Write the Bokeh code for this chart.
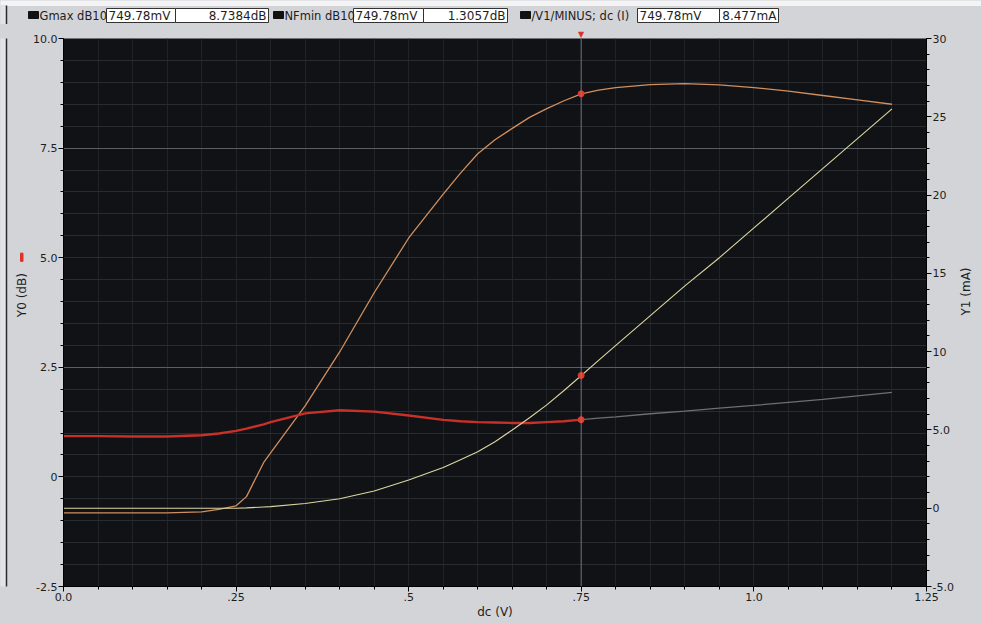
import numpy as np
from bokeh.plotting import figure
from bokeh.layouts import column, row
from bokeh.models import Range1d, LinearAxis, FixedTicker, Span
from bokeh.core.properties import value
from bokeh.embed import file_html
from bokeh.resources import INLINE

# DC sweep of the gate bias (V)
vdc = [0.00, 0.05, 0.10, 0.15, 0.20, 0.225, 0.25, 0.265, 0.29, 0.30,
       0.35, 0.40, 0.45, 0.50, 0.55, 0.575, 0.60, 0.625, 0.65, 0.675,
       0.70, 0.725, 0.75, 0.775, 0.80, 0.85, 0.90, 0.95, 1.00, 1.05,
       1.10, 1.15, 1.20]

# Maximum available gain, dB10 (left axis)
gmax_db = [-0.82, -0.82, -0.82, -0.82, -0.80, -0.74, -0.66, -0.45, 0.33, 0.55,
           1.62, 2.85, 4.20, 5.45, 6.45, 6.93, 7.37, 7.69, 7.95, 8.20,
           8.40, 8.58, 8.7384, 8.82, 8.88, 8.95, 8.97, 8.94, 8.88, 8.80,
           8.70, 8.60, 8.50]

# Minimum noise figure, dB10 (left axis)
nfmin_db = [0.93, 0.93, 0.92, 0.92, 0.95, 0.99, 1.05, 1.10, 1.20, 1.25,
            1.45, 1.52, 1.49, 1.40, 1.30, 1.27, 1.25, 1.24, 1.23, 1.23,
            1.25, 1.27, 1.3057, 1.34, 1.37, 1.44, 1.50, 1.57, 1.63, 1.70,
            1.77, 1.85, 1.93]

# Supply current through /V1/MINUS, mA (right axis)
i_minus_ma = [0.0, 0.0, 0.0, 0.0, 0.0, 0.0, 0.0, 0.02, 0.08, 0.1,
              0.3, 0.6, 1.1, 1.8, 2.6, 3.1, 3.6, 4.25, 5.0, 5.78,
              6.6, 7.52, 8.477, 9.44, 10.4, 12.3, 14.2, 16.0, 17.9, 19.8,
              21.7, 23.6, 25.5]

# Cursor readout
cursor_v = 0.74978
cursor_gmax = 8.7384
cursor_nfmin = 1.3057
cursor_i = 8.477

x_ticks = [0.0, 0.25, 0.5, 0.75, 1.0, 1.25]
x_tick_labels = ["0.0", ".25", ".5", ".75", "1.0", "1.25"]
y0_ticks = [-2.5, 0.0, 2.5, 5.0, 7.5, 10.0]
y0_tick_labels = ["-2.5", "0", "2.5", "5.0", "7.5", "10.0"]
y1_ticks = [-5, 0, 5, 10, 15, 20, 25, 30]
y1_tick_labels = ["-5.0", "0", "5.0", "10", "15", "20", "25", "30"]

W, H = 981, 624
STRIP_H = 24          # readout strip on top
LEFT_W = 28           # strip holding the Y0 title
RIGHT_W = 23          # strip holding the Y1 title
MAIN_W = W - LEFT_W - RIGHT_W
MAIN_H = H - STRIP_H
PAGE = "#d3d4d8"
INK = "#1e1e1e"
RED = "#e0322a"
FONT = "DejaVu Sans"
BG_STYLE = {"background-color": PAGE}


def pixel_panel(x0, y0, w, h):
    """A bare figure whose data coordinates are page pixels (y grows downward)."""
    f = figure(width=w, height=h, x_range=Range1d(x0, x0 + w), y_range=Range1d(y0 + h, y0),
               output_backend="svg", toolbar_location=None,
               x_axis_location=None, y_axis_location=None, min_border=0, styles=BG_STYLE)
    f.grid.visible = False
    f.outline_line_color = None
    f.background_fill_color = PAGE
    f.border_fill_color = PAGE
    # solid page-coloured backing over the whole panel
    f.quad(left=[x0 - 2], right=[x0 + w + 2], top=[y0 - 2], bottom=[y0 + h + 2],
           fill_color=PAGE, line_color=None)
    return f


def put_text(f, x, y, s, align="left", color=INK, size="12px", angle=0.0):
    f.text(x=[x], y=[y], text=[s], angle=angle, text_align=align, text_baseline="middle",
           text_color=color, text_font=value(FONT), text_font_size=value(size))


# ---- main plot -------------------------------------------------------------
p = figure(width=MAIN_W, height=MAIN_H, x_range=Range1d(0, 1.25), y_range=Range1d(-2.5, 10),
           output_backend="svg", toolbar_location=None, styles=BG_STYLE,
           min_border_left=63 - LEFT_W, min_border_right=(W - RIGHT_W) - 926,
           min_border_top=38 - STRIP_H, min_border_bottom=38)
p.background_fill_color = "#111215"
p.border_fill_color = PAGE
p.outline_line_color = None
p.extra_y_ranges = {"ma": Range1d(-5, 30)}

right = LinearAxis(y_range_name="ma")
p.add_layout(right, "right")

p.xaxis[0].ticker = FixedTicker(ticks=x_ticks, minor_ticks=list(np.round(np.arange(0, 1.2501, 0.05), 3)))
p.xaxis[0].major_label_overrides = dict(zip(x_ticks, x_tick_labels))
p.yaxis[0].ticker = FixedTicker(ticks=y0_ticks, minor_ticks=list(np.round(np.arange(-2.5, 10.01, 0.5), 2)))
p.yaxis[0].major_label_overrides = dict(zip(y0_ticks, y0_tick_labels))
right.ticker = FixedTicker(ticks=y1_ticks, minor_ticks=list(range(-5, 31)))
right.major_label_overrides = dict(zip(y1_ticks, y1_tick_labels))

for ax in (p.xaxis[0], p.yaxis[0], right):
    ax.axis_line_color = "black"
    ax.major_tick_line_color = "black"
    ax.minor_tick_line_color = "black"
    ax.major_tick_out = 5
    ax.major_tick_in = 0
    ax.minor_tick_out = 3
    ax.minor_tick_in = 0
    ax.major_label_standoff = 1
    ax.major_label_text_font = FONT
    ax.major_label_text_font_size = "11px"
    ax.major_label_text_color = INK

p.xaxis[0].axis_label = "dc (V)"
p.xaxis[0].axis_label_standoff = 1
p.xaxis[0].axis_label_text_font = FONT
p.xaxis[0].axis_label_text_font_size = "12px"
p.xaxis[0].axis_label_text_font_style = "normal"
p.xaxis[0].axis_label_text_color = INK

# Cursor flag just above the frame
flag = LinearAxis(ticker=FixedTicker(ticks=[cursor_v], minor_ticks=[]),
                  major_label_overrides={cursor_v: "▼"})
flag.axis_line_color = None
flag.major_tick_line_color = None
flag.minor_tick_line_color = None
flag.major_tick_out = 0
flag.major_tick_in = 0
flag.minor_tick_out = 0
flag.minor_tick_in = 0
flag.major_label_standoff = 0
flag.major_label_text_color = RED
flag.major_label_text_font = FONT
flag.major_label_text_font_size = "8px"
p.add_layout(flag, "above")

# Grid: faint 0.05 V verticals, faint 0.5 dB horizontals, brighter at 2.5/7.5 dB
p.xgrid[0].ticker = FixedTicker(ticks=[], minor_ticks=list(np.round(np.arange(0.05, 1.25, 0.05), 3)))
p.xgrid[0].grid_line_color = None
p.xgrid[0].minor_grid_line_color = "#1f2226"
p.ygrid[0].ticker = FixedTicker(ticks=[2.5, 7.5],
                                minor_ticks=[v for v in np.round(np.arange(-2.0, 10.0, 0.5), 2) if v not in (2.5, 7.5)])
p.ygrid[0].grid_line_color = "#5b5e63"
p.ygrid[0].minor_grid_line_color = "#282b30"

# Cursor line
p.add_layout(Span(location=cursor_v, dimension="height", line_color="#7d8da3", line_width=1, line_alpha=0.75))

# Curves
p.line(vdc, gmax_db, line_color="#d28f5e", line_width=1.3)
k = vdc.index(0.75)
p.line(vdc[:k + 1], nfmin_db[:k + 1], line_color="#c8302a", line_width=2.4)
p.line(vdc[k:], nfmin_db[k:], line_color="#6c6f73", line_width=1.3)
p.line(vdc, i_minus_ma, line_color="#ddd6a2", line_width=1.1, y_range_name="ma")

# Cursor markers
p.scatter([cursor_v], [cursor_gmax], size=6, color="#e5372a")
p.scatter([cursor_v], [cursor_nfmin], size=6, color="#e5372a")
p.scatter([cursor_v], [cursor_i], size=6, color="#e5372a", y_range_name="ma")

# ---- side strips with the axis titles ---------------------------------------
left = pixel_panel(0, STRIP_H, LEFT_W, MAIN_H)
left.quad(left=[-2], right=[6], top=[STRIP_H - 2], bottom=[H + 2], color="#e3e3e6")
left.segment(x0=[6], y0=[STRIP_H - 2], x1=[6], y1=[H + 2], line_color="#2a2a2a", line_width=1.5)
put_text(left, 21, 305, "Y0 (dB)", align="center", angle=np.pi / 2)
left.quad(left=[20], right=[22.5], top=[259], bottom=[268], color=RED)

rightp = pixel_panel(W - RIGHT_W, STRIP_H, RIGHT_W, MAIN_H)
put_text(rightp, 965, 301, "Y1 (mA)", align="center", angle=np.pi / 2)

# ---- readout strip --------------------------------------------------------
top = pixel_panel(0, 0, W, STRIP_H)
top.quad(left=[-2], right=[W + 2], top=[-2], bottom=[5], color="#f4f4f5")
top.quad(left=[-2], right=[6], top=[5], bottom=[STRIP_H + 2], color="#e3e3e6")
top.segment(x0=[6], y0=[5], x1=[6], y1=[STRIP_H + 2], line_color="#2a2a2a", line_width=1.5)
vtxt = f"{cursor_v * 1000:.2f}mV"
readouts = [
    (28, "Gmax dB10", 106, 175, 268, f"{cursor_gmax:.4f}dB"),
    (273, "NFmin dB10", 353, 423, 507, f"{cursor_nfmin:.4f}dB"),
    (520, "/V1/MINUS; dc (I)", 637, 719, 778, f"{cursor_i:.3f}mA"),
]
for icon_x, name, b0, b1, b2, val in readouts:
    top.quad(left=[icon_x], right=[icon_x + 10], top=[11], bottom=[18], color="#111")
    top.quad(left=[b0, b1], right=[b1, b2], top=[8, 8], bottom=[22, 22],
             fill_color="white", line_color="#333", line_width=1)
    put_text(top, icon_x + 11, 15, name, size="11.5px")
    put_text(top, b0 + 2, 15, vtxt)
    put_text(top, b2 - 2, 15, val, align="right")

page = column(top, row(left, p, rightp, styles=BG_STYLE), styles=BG_STYLE)
open("out.html", "w").write(file_html(page, INLINE))
